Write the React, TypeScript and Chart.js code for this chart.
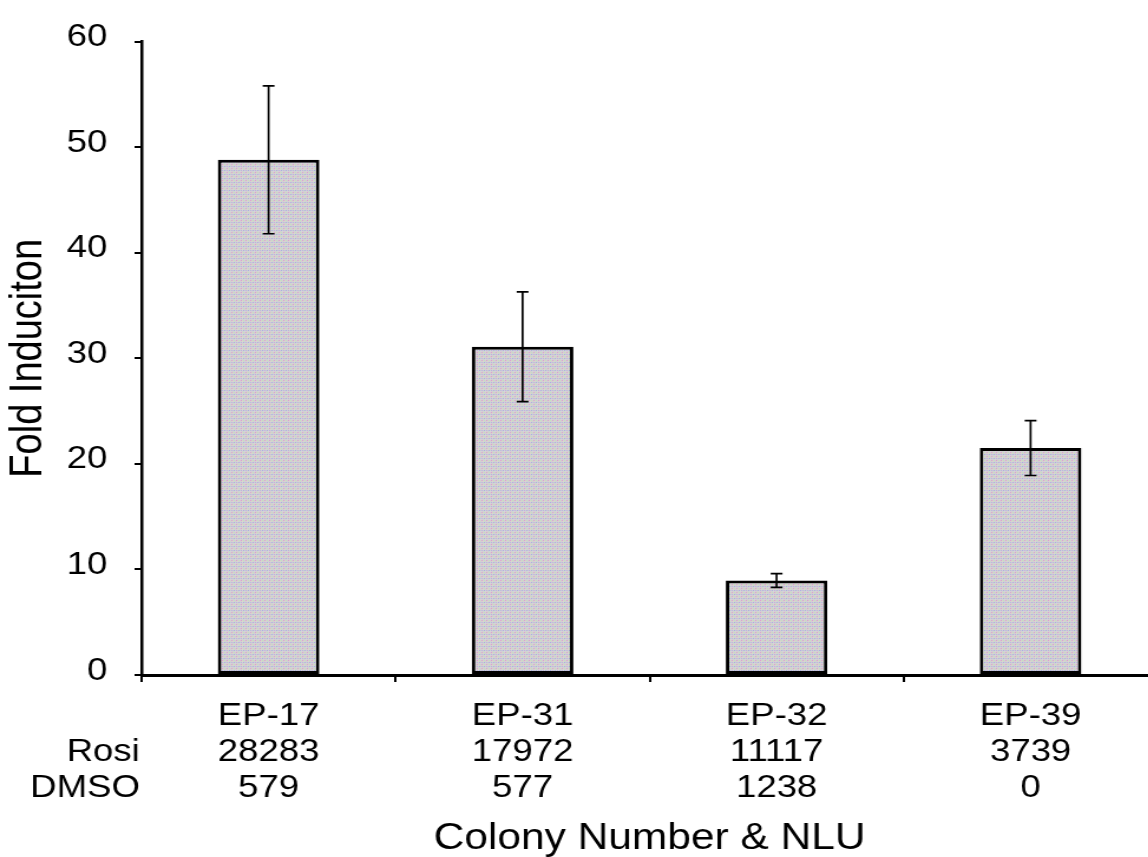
import React, { useEffect, useRef } from 'react';
import { Chart, registerables } from 'chart.js';

Chart.register(...registerables);

// ---- data ----
const colonies = ['EP-17', 'EP-31', 'EP-32', 'EP-39'];
const rosiNLU = ['28283', '17972', '11117', '3739'];
const dmsoNLU = ['579', '577', '1238', '0'];
const foldInduction = [48.8, 31.1, 8.95, 21.5];
const foldError = [7.0, 5.2, 0.65, 2.6];
const rowLabels = ['Rosi', 'DMSO'];
const yTicks = [0, 10, 20, 30, 40, 50, 60];

// ---- layout / style ----
const STRETCH = 1.18;
const CANVAS_W = 995;
const CANVAS_H = 857;
const FONT = '"Liberation Sans", Arial, Helvetica, sans-serif';
const TICK_SIZE = 31;
const LINE_H = 36;
const X_TICK_LEN = 7;
const X_TICK_PAD = 16;

export default function App() {
  const ref = useRef<HTMLCanvasElement>(null);

  useEffect(() => {
    const canvas = ref.current!;
    const tile = document.createElement('canvas');
    tile.width = 4;
    tile.height = 4;
    const t = tile.getContext('2d')!;
    t.fillStyle = '#d2d1d2';
    t.fillRect(0, 0, 4, 4);
    const dot = (x: number, y: number, c: string) => {
      t.fillStyle = c;
      t.fillRect(x, y, 1, 1);
    };
    dot(0, 0, '#e39ccf');
    dot(2, 2, '#a9aee6');
    dot(2, 0, '#c2e2bc');
    dot(0, 2, '#b9b4e0');
    dot(1, 1, '#dcd8cc');
    dot(3, 3, '#d8d2dc');
    const pattern = canvas.getContext('2d')!.createPattern(tile, 'repeat');

    const errorBars = {
      id: 'errorBars',
      afterDatasetsDraw(chart: any) {
        const meta = chart.getDatasetMeta(0);
        const ys = chart.scales.y;
        const ctx = chart.ctx;
        ctx.save();
        ctx.strokeStyle = '#000';
        ctx.lineWidth = 1.7;
        meta.data.forEach((bar: any, i: number) => {
          const x = bar.x;
          const hi = ys.getPixelForValue(foldInduction[i] + foldError[i]);
          const lo = ys.getPixelForValue(foldInduction[i] - foldError[i]);
          ctx.beginPath();
          ctx.moveTo(x, hi);
          ctx.lineTo(x, lo);
          ctx.moveTo(x - 5, hi);
          ctx.lineTo(x + 5, hi);
          ctx.moveTo(x - 5, lo);
          ctx.lineTo(x + 5, lo);
          ctx.stroke();
        });
        ctx.restore();
      },
    };

    const rowLabelPlugin = {
      id: 'rowLabels',
      afterDraw(chart: any) {
        const xs = chart.scales.x;
        const ctx = chart.ctx;
        ctx.save();
        ctx.font = `${TICK_SIZE}px ${FONT}`;
        ctx.fillStyle = '#000';
        ctx.textAlign = 'right';
        ctx.textBaseline = 'middle';
        const base = xs.top + X_TICK_LEN + X_TICK_PAD + LINE_H / 2;
        rowLabels.forEach((txt, i) => {
          ctx.fillText(txt, chart.chartArea.left - 1.5, base + (i + 1) * LINE_H);
        });
        ctx.restore();
      },
    };

    const labels = colonies.map((c, i) => [c, rosiNLU[i], dmsoNLU[i]]);

    const chart = new Chart(canvas, {
      type: 'bar',
      data: {
        labels,
        datasets: [
          {
            data: foldInduction,
            backgroundColor: pattern as any,
            borderColor: '#000',
            borderWidth: 3,
            borderSkipped: false,
            barPercentage: 0.8,
            categoryPercentage: 0.5,
          },
        ],
      },
      options: {
        responsive: false,
        animation: false,
        devicePixelRatio: 1,
        layout: { padding: { left: 0, right: 14, top: 33, bottom: 0 } },
        plugins: { legend: { display: false }, tooltip: { enabled: false } },
        scales: {
          x: {
            grid: {
              display: true,
              drawOnChartArea: false,
              drawTicks: true,
              tickLength: X_TICK_LEN,
              color: '#000',
              lineWidth: 2,
              offset: true,
            },
            border: { display: true, color: '#000', width: 3 },
            ticks: {
              color: '#000',
              font: { family: FONT, size: TICK_SIZE, lineHeight: LINE_H / TICK_SIZE },
              padding: X_TICK_PAD,
              maxRotation: 0,
              autoSkip: false,
            },
            title: {
              display: true,
              text: 'Colony Number & NLU',
              color: '#000',
              font: { family: FONT, size: 36, lineHeight: 1 },
              padding: { top: 0, bottom: 0 },
            },
            afterFit: (s: any) => {
              s.height = 182;
            },
          },
          y: {
            min: 0,
            max: 60,
            afterBuildTicks: (s: any) => {
              s.ticks = yTicks.map((v) => ({ value: v }));
            },
            grid: {
              display: true,
              drawOnChartArea: false,
              drawTicks: true,
              tickLength: 6,
              color: '#000',
              lineWidth: 2,
            },
            border: { display: true, color: '#000', width: 2.5 },
            ticks: {
              color: '#000',
              font: { family: FONT, size: TICK_SIZE },
              padding: 23,
              labelOffset: -4,
            },
            title: {
              display: true,
              text: 'Fold Induciton',
              color: '#000',
              font: { family: FONT, size: 38, lineHeight: 1 },
              padding: { top: 6, bottom: 0 },
            },
            afterFit: (s: any) => {
              s.width = 120;
            },
          },
        },
      },
      plugins: [errorBars, rowLabelPlugin],
    });

    return () => chart.destroy();
  }, []);

  return (
    <div
      style={{
        position: 'fixed',
        left: 0,
        top: 0,
        width: 1148,
        height: 857,
        overflow: 'hidden',
        background: '#fff',
      }}
    >
      <canvas
        ref={ref}
        width={CANVAS_W}
        height={CANVAS_H}
        style={{ transform: `scaleX(${STRETCH})`, transformOrigin: '0 0', display: 'block' }}
      />
    </div>
  );
}
